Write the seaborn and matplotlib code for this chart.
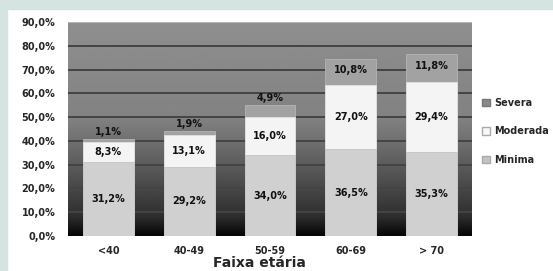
import matplotlib
matplotlib.use("Agg")
import matplotlib.pyplot as plt
import seaborn as sns
import pandas as pd
import numpy as np
from matplotlib.patches import Rectangle, Patch

faixas = ["<40", "40-49", "50-59", "60-69", "> 70"]
minima = [31.2, 29.2, 34.0, 36.5, 35.3]
moderada = [8.3, 13.1, 16.0, 27.0, 29.4]
severa = [1.1, 1.9, 4.9, 10.8, 11.8]

df = pd.DataFrame({"faixa": faixas, "Minima": minima, "Moderada": moderada, "Severa": severa})
df["ate_mod"] = df["Minima"] + df["Moderada"]
df["total"] = df["ate_mod"] + df["Severa"]

sns.set_style("white")
plt.rcParams["font.family"] = ["DejaVu Sans"]
plt.rcParams["font.weight"] = "bold"

fig = plt.figure(figsize=(5.53, 2.71), dpi=100)
fig.patch.set_facecolor("white")
teal = "#d6e4e1"
fig.add_artist(Rectangle((0, 0), 7 / 553, 1, transform=fig.transFigure, color=teal, zorder=0))
fig.add_artist(Rectangle((0, 1 - 9 / 271), 1, 9 / 271, transform=fig.transFigure, color=teal, zorder=0))

ax = fig.add_axes([68 / 553, 35 / 271, 404 / 553, 214 / 271])

# fundo em degradê
yy = np.linspace(0, 90, 300)
shade = np.interp(yy, [0, 8, 20, 30, 40, 50, 90], [0.02, 0.18, 0.28, 0.36, 0.44, 0.51, 0.56])
grad = np.repeat(shade[:, None], 2, axis=1)
ax.imshow(grad, cmap="gray", vmin=0, vmax=1, origin="lower", aspect="auto",
          extent=[-0.5, 4.5, 0, 90], zorder=0)
for v in range(10, 90, 10):
    ax.axhline(v, color="#444444", lw=1.4, zorder=1)
ax.axhline(90, color="#bdbdbd", lw=1.2, zorder=1)

w = 0.63
sns.barplot(data=df, x="faixa", y="total", color="#a2a2a2", width=w, saturation=1,
            edgecolor="#b5b5b5", linewidth=0.6, ax=ax, zorder=2)
sns.barplot(data=df, x="faixa", y="ate_mod", color="#f4f4f4", width=w, saturation=1,
            edgecolor="#e0e0e0", linewidth=0.6, ax=ax, zorder=3)
sns.barplot(data=df, x="faixa", y="Minima", color="#d0d0d0", width=w, saturation=1,
            edgecolor="#c4c4c4", linewidth=0.6, ax=ax, zorder=4)

fmt = lambda v: f"{v:.1f}%".replace(".", ",")
for i, r in df.iterrows():
    kw = dict(ha="center", va="center", fontsize=7, fontweight="bold", color="#111111", zorder=6)
    ax.text(i, r["Minima"] / 2, fmt(r["Minima"]), **kw)
    ax.text(i, r["Minima"] + r["Moderada"] / 2, fmt(r["Moderada"]), **kw)
    if r["Severa"] < 6:
        ax.text(i, r["total"] + 3, fmt(r["Severa"]), **kw)
    else:
        ax.text(i, r["ate_mod"] + r["Severa"] / 2 + 1, fmt(r["Severa"]), **kw)

ax.set_xlim(-0.5, 4.5)
ax.set_ylim(0, 90)
ax.set_yticks(range(0, 91, 10))
ax.set_yticklabels([fmt(v) for v in range(0, 91, 10)], fontsize=7, fontweight="bold")
ax.set_xticks(range(len(faixas)))
ax.set_xticklabels(faixas, fontsize=7, fontweight="bold")
ax.tick_params(axis="y", length=0, pad=9)
ax.tick_params(axis="x", length=0, pad=7)
ax.set_ylabel("")
ax.set_xlabel("Faixa etária", fontsize=10, fontweight="bold")
ax.xaxis.set_label_coords(0.475, -0.128)
ax.xaxis.label.set_va("center")
for s in ax.spines.values():
    s.set_visible(False)

handles = [Patch(facecolor="#8a8a8a", edgecolor="#777777", label="Severa"),
           Patch(facecolor="#f8f8f8", edgecolor="#aaaaaa", label="Moderada"),
           Patch(facecolor="#c2c2c2", edgecolor="#aaaaaa", label="Minima")]
fig.legend(handles=handles, loc="upper left", bbox_to_anchor=(478 / 553, 1 - 94 / 271),
           frameon=False, prop={"size": 7, "weight": "bold"}, handlelength=0.8,
           handleheight=0.8, handletextpad=0.5, labelspacing=1.9, borderaxespad=0)

fig.savefig("out.png", dpi=100)
